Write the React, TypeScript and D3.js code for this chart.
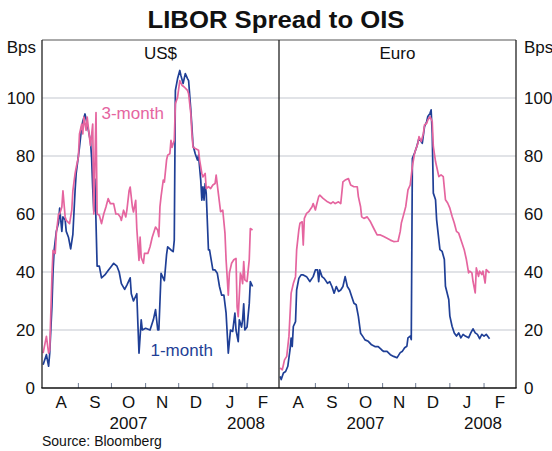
import React from "react";
import * as d3 from "d3";

// ---------- data ----------
const monthLabels = ["A", "S", "O", "N", "D", "J", "F"];
const yTickValues = [0, 20, 40, 60, 80, 100];
const yearLabels: [string, string, string][] = [
  ["2007", "2007-08-01", "2008-01-01"],
  ["2008", "2008-01-01", "2008-03-01"],
];

const usOneMonth: [string, number][] = [
  ["2007-07-31", 8], ["2007-08-03", 11.5], ["2007-08-05", 7.5], ["2007-08-06", 12], ["2007-08-08", 28],
  ["2007-08-09", 40], ["2007-08-10", 47.5], ["2007-08-12", 54], ["2007-08-14", 57], ["2007-08-15", 62],
  ["2007-08-17", 54], ["2007-08-18", 59], ["2007-08-20", 58], ["2007-08-21", 54], ["2007-08-23", 52],
  ["2007-08-25", 48], ["2007-08-27", 53], ["2007-08-29", 68], ["2007-08-30", 74], ["2007-09-02", 83],
  ["2007-09-04", 90], ["2007-09-05", 92], ["2007-09-07", 94.5], ["2007-09-09", 91], ["2007-09-10", 89],
  ["2007-09-12", 85], ["2007-09-13", 79.5], ["2007-09-14", 69], ["2007-09-15", 61], ["2007-09-16", 72],
  ["2007-09-18", 42], ["2007-09-20", 42], ["2007-09-22", 38], ["2007-09-25", 39], ["2007-09-28", 40.5],
  ["2007-10-01", 42], ["2007-10-03", 43], ["2007-10-06", 42], ["2007-10-08", 40], ["2007-10-10", 36],
  ["2007-10-13", 34], ["2007-10-15", 35.5], ["2007-10-18", 38], ["2007-10-19", 32.5], ["2007-10-21", 30],
  ["2007-10-24", 32.5], ["2007-10-25", 22], ["2007-10-26", 12], ["2007-10-28", 23.5], ["2007-10-29", 20],
  ["2007-11-01", 20.6], ["2007-11-05", 20], ["2007-11-08", 23.5], ["2007-11-10", 27], ["2007-11-12", 20],
  ["2007-11-13", 20], ["2007-11-15", 39.5], ["2007-11-18", 37], ["2007-11-20", 46], ["2007-11-21", 48.7],
  ["2007-11-24", 47.6], ["2007-11-26", 47], ["2007-11-27", 51], ["2007-11-28", 102.6], ["2007-11-30", 106.7],
  ["2007-12-02", 109.5], ["2007-12-03", 107.8], ["2007-12-05", 105], ["2007-12-07", 108.4], ["2007-12-09", 106.7],
  ["2007-12-10", 106], ["2007-12-12", 95.8], ["2007-12-13", 90], ["2007-12-14", 83.7], ["2007-12-16", 80.8],
  ["2007-12-18", 78.6], ["2007-12-19", 80.3], ["2007-12-21", 71.7], ["2007-12-22", 64.8], ["2007-12-23", 69.4],
  ["2007-12-24", 64.8], ["2007-12-25", 70.5], ["2007-12-26", 67], ["2007-12-28", 47.6], ["2007-12-29", 47.6],
  ["2007-12-30", 45.3], ["2008-01-01", 40.7], ["2008-01-03", 40.7], ["2008-01-05", 39.6], ["2008-01-07", 35],
  ["2008-01-09", 32], ["2008-01-11", 32], ["2008-01-13", 25.8], ["2008-01-14", 19], ["2008-01-15", 12],
  ["2008-01-17", 20], ["2008-01-19", 19.5], ["2008-01-21", 25.8], ["2008-01-22", 20], ["2008-01-24", 16],
  ["2008-01-25", 23.5], ["2008-01-27", 21], ["2008-01-28", 23.5], ["2008-01-29", 29], ["2008-01-30", 20],
  ["2008-02-01", 21], ["2008-02-03", 29], ["2008-02-04", 36.7], ["2008-02-06", 35],
];

const usThreeMonth: [string, number][] = [
  ["2007-07-31", 12], ["2007-08-03", 17.8], ["2007-08-05", 12], ["2007-08-06", 13], ["2007-08-08", 38.4],
  ["2007-08-09", 47.5], ["2007-08-11", 46.4], ["2007-08-12", 53.3], ["2007-08-14", 60], ["2007-08-15", 60],
  ["2007-08-17", 62.4], ["2007-08-18", 68], ["2007-08-20", 59], ["2007-08-21", 57.8], ["2007-08-24", 56.7],
  ["2007-08-26", 61.3], ["2007-08-27", 68], ["2007-08-29", 73.9], ["2007-08-30", 76], ["2007-09-01", 79.6],
  ["2007-09-02", 87.6], ["2007-09-04", 91], ["2007-09-05", 87.6], ["2007-09-06", 93.4], ["2007-09-08", 88.8],
  ["2007-09-09", 93.4], ["2007-09-11", 86.5], ["2007-09-12", 83.6], ["2007-09-14", 91], ["2007-09-15", 60],
  ["2007-09-17", 95], ["2007-09-18", 60], ["2007-09-20", 59.6], ["2007-09-22", 56.7], ["2007-09-24", 60],
  ["2007-09-26", 62.4], ["2007-09-28", 65.3], ["2007-09-30", 63.6], ["2007-10-03", 63.6], ["2007-10-05", 60],
  ["2007-10-07", 60], ["2007-10-09", 59], ["2007-10-10", 57.8], ["2007-10-12", 61.3], ["2007-10-14", 59],
  ["2007-10-15", 61.3], ["2007-10-17", 68], ["2007-10-18", 69.3], ["2007-10-20", 62.4], ["2007-10-21", 60.7],
  ["2007-10-23", 64.7], ["2007-10-24", 55], ["2007-10-26", 44], ["2007-10-27", 52], ["2007-10-28", 45],
  ["2007-10-30", 43], ["2007-10-31", 46.4], ["2007-11-03", 46.4], ["2007-11-05", 48.7], ["2007-11-07", 52],
  ["2007-11-10", 55.5], ["2007-11-12", 54.4], ["2007-11-13", 52.2], ["2007-11-14", 62.5], ["2007-11-15", 66],
  ["2007-11-17", 71.7], ["2007-11-18", 71], ["2007-11-20", 78.6], ["2007-11-21", 80.3], ["2007-11-23", 80.8],
  ["2007-11-24", 85.4], ["2007-11-25", 83], ["2007-11-27", 85.4], ["2007-11-28", 98], ["2007-11-30", 100.3],
  ["2007-12-02", 106], ["2007-12-04", 104.4], ["2007-12-06", 103.8], ["2007-12-09", 102.6], ["2007-12-10", 101.5],
  ["2007-12-12", 94.6], ["2007-12-13", 87.7], ["2007-12-14", 83], ["2007-12-16", 82.6], ["2007-12-19", 82],
  ["2007-12-20", 78.6], ["2007-12-22", 74], ["2007-12-23", 72.8], ["2007-12-25", 74], ["2007-12-26", 68.8],
  ["2007-12-28", 69.4], ["2007-12-30", 68.8], ["2008-01-01", 70], ["2008-01-03", 70.5], ["2008-01-04", 73.4],
  ["2008-01-06", 67], ["2008-01-08", 60.8], ["2008-01-10", 61.3], ["2008-01-12", 53.3], ["2008-01-13", 44.2],
  ["2008-01-15", 32], ["2008-01-16", 39.6], ["2008-01-18", 43], ["2008-01-20", 44.2], ["2008-01-22", 44.7],
  ["2008-01-23", 28], ["2008-01-24", 24.6], ["2008-01-26", 39.6], ["2008-01-27", 38.4], ["2008-01-28", 36],
  ["2008-01-29", 43.6], ["2008-01-30", 37.3], ["2008-02-01", 36.7], ["2008-02-03", 44.2], ["2008-02-04", 55],
  ["2008-02-06", 54.5],
];

const euroOneMonth: [string, number][] = [
  ["2007-07-31", 4], ["2007-08-01", 2.9], ["2007-08-03", 5.2], ["2007-08-05", 5.7], ["2007-08-07", 7.5],
  ["2007-08-09", 13.2], ["2007-08-10", 17.2], ["2007-08-11", 14.3], ["2007-08-12", 21.2], ["2007-08-14", 22.9],
  ["2007-08-15", 33.8], ["2007-08-17", 37.8], ["2007-08-19", 39], ["2007-08-21", 39], ["2007-08-24", 38.4],
  ["2007-08-27", 36.7], ["2007-08-30", 38.4], ["2007-09-01", 40.7], ["2007-09-03", 40.7], ["2007-09-04", 36.7],
  ["2007-09-05", 40.7], ["2007-09-07", 38.4], ["2007-09-09", 37.8], ["2007-09-12", 36.1], ["2007-09-14", 36.7],
  ["2007-09-16", 35], ["2007-09-18", 32.7], ["2007-09-20", 35], ["2007-09-22", 33.3], ["2007-09-24", 33.8],
  ["2007-09-26", 35], ["2007-09-28", 38.4], ["2007-09-30", 35], ["2007-10-02", 33.8], ["2007-10-04", 31.5],
  ["2007-10-06", 29.2], ["2007-10-08", 28.7], ["2007-10-10", 24.7], ["2007-10-12", 18.9], ["2007-10-14", 17.8],
  ["2007-10-16", 16.6], ["2007-10-19", 16.1], ["2007-10-22", 14.9], ["2007-10-25", 14.3], ["2007-10-28", 14.3],
  ["2007-10-31", 13.2], ["2007-11-02", 12.6], ["2007-11-05", 12.6], ["2007-11-08", 11.5], ["2007-11-11", 10.9],
  ["2007-11-14", 10.4], ["2007-11-15", 11], ["2007-11-17", 12.2], ["2007-11-19", 12.7], ["2007-11-21", 13.9],
  ["2007-11-23", 14.4], ["2007-11-24", 17.3], ["2007-11-26", 17.9], ["2007-11-27", 16.7], ["2007-11-28", 79.2],
  ["2007-11-30", 81], ["2007-12-02", 83.3], ["2007-12-04", 86.1], ["2007-12-06", 85], ["2007-12-07", 84.4],
  ["2007-12-09", 90.1], ["2007-12-11", 91.9], ["2007-12-12", 93.6], ["2007-12-14", 94.7], ["2007-12-15", 95.9],
  ["2007-12-16", 87.8], ["2007-12-17", 67.2], ["2007-12-19", 64.9], ["2007-12-20", 58], ["2007-12-22", 51.1],
  ["2007-12-23", 47.7], ["2007-12-25", 47.1], ["2007-12-27", 44.3], ["2007-12-28", 35.1], ["2007-12-31", 30.5],
  ["2008-01-01", 24.8], ["2008-01-03", 21.3], ["2008-01-05", 19], ["2008-01-07", 17.9], ["2008-01-09", 19],
  ["2008-01-11", 17.3], ["2008-01-13", 18.5], ["2008-01-15", 17.9], ["2008-01-18", 17.3], ["2008-01-20", 19],
  ["2008-01-22", 20.4], ["2008-01-24", 19], ["2008-01-26", 18.5], ["2008-01-28", 17], ["2008-01-30", 18.5],
  ["2008-02-01", 17.9], ["2008-02-03", 18.5], ["2008-02-06", 17],
];

const euroThreeMonth: [string, number][] = [
  ["2007-07-31", 6.9], ["2007-08-02", 6.3], ["2007-08-04", 9.7], ["2007-08-06", 10.9], ["2007-08-08", 17.8],
  ["2007-08-10", 32.7], ["2007-08-12", 36], ["2007-08-14", 38.4], ["2007-08-15", 47.6], ["2007-08-17", 54.5],
  ["2007-08-18", 56.8], ["2007-08-20", 57.3], ["2007-08-21", 49.3], ["2007-08-22", 58.5], ["2007-08-24", 60.2],
  ["2007-08-26", 60.8], ["2007-08-27", 61.4], ["2007-08-29", 62.5], ["2007-08-30", 63.6], ["2007-09-01", 61.4],
  ["2007-09-02", 63], ["2007-09-04", 66], ["2007-09-05", 66.5], ["2007-09-08", 65.4], ["2007-09-10", 64.8],
  ["2007-09-12", 64.2], ["2007-09-15", 63.6], ["2007-09-17", 64.2], ["2007-09-19", 63.6], ["2007-09-22", 64.2],
  ["2007-09-24", 63.6], ["2007-09-26", 71.1], ["2007-09-28", 71.7], ["2007-10-01", 72.2], ["2007-10-03", 70],
  ["2007-10-06", 69.4], ["2007-10-09", 69.4], ["2007-10-10", 66], ["2007-10-12", 62.5], ["2007-10-13", 59],
  ["2007-10-15", 58.5], ["2007-10-18", 59], ["2007-10-21", 57.3], ["2007-10-24", 55], ["2007-10-27", 52.8],
  ["2007-10-30", 52.8], ["2007-11-02", 52.2], ["2007-11-05", 51.6], ["2007-11-08", 51], ["2007-11-11", 50.5],
  ["2007-11-15", 50.6], ["2007-11-17", 54], ["2007-11-18", 56.9], ["2007-11-20", 59.7], ["2007-11-22", 62.6],
  ["2007-11-24", 68.3], ["2007-11-26", 70], ["2007-11-28", 76.4], ["2007-11-30", 81], ["2007-12-03", 84.4],
  ["2007-12-04", 86.7], ["2007-12-06", 85], ["2007-12-08", 87.8], ["2007-12-09", 90.7], ["2007-12-11", 91.3],
  ["2007-12-12", 92.4], ["2007-12-14", 93.6], ["2007-12-16", 91.9], ["2007-12-17", 83.3], ["2007-12-19", 78.1],
  ["2007-12-20", 76.4], ["2007-12-22", 72.9], ["2007-12-24", 73.5], ["2007-12-26", 72.9], ["2007-12-28", 64.9],
  ["2007-12-30", 63.8], ["2008-01-01", 62], ["2008-01-03", 59.2], ["2008-01-05", 56.9], ["2008-01-07", 54],
  ["2008-01-09", 53.4], ["2008-01-12", 50], ["2008-01-14", 47.7], ["2008-01-16", 44.3], ["2008-01-18", 39.7],
  ["2008-01-19", 40.3], ["2008-01-21", 39.7], ["2008-01-22", 36.8], ["2008-01-24", 32.8], ["2008-01-25", 41.4],
  ["2008-01-27", 38.5], ["2008-01-28", 40.3], ["2008-01-30", 39.1], ["2008-01-31", 40.3], ["2008-02-02", 36.2],
  ["2008-02-03", 40.8], ["2008-02-06", 39.7],
];

// ---------- layout ----------
const W = 552;
const H = 451;
const TOP = 40;
const BOTTOM = 388;
const PANEL_W = 237;
const PANEL_LEFTS = [42, 279];
const BLUE = "#1f3f96";
const PINK = "#e5659f";
const FONT = "'Liberation Sans', Arial, Helvetica, sans-serif";

const parse = d3.utcParse("%Y-%m-%d");
const DOMAIN: [Date, Date] = [parse("2007-07-30")!, parse("2008-03-01")!];

type Series = [string, number][];
const panels: { title: string; one: Series; three: Series }[] = [
  { title: "US$", one: usOneMonth, three: usThreeMonth },
  { title: "Euro", one: euroOneMonth, three: euroThreeMonth },
];

export default function App() {
  const y = d3.scaleLinear().domain([0, 120]).range([BOTTOM, TOP]);

  return (
    <svg
      width={W}
      height={H}
      style={{ position: "absolute", left: 0, top: 0, background: "#fff" }}
      fontFamily={FONT}
    >
      <rect x={0} y={0} width={W} height={H} fill="#fff" />
      {/* title */}
      <text
        x={W / 2}
        y={28}
        textAnchor="middle"
        fontSize={23}
        fontWeight="bold"
        fill="#111"
        textLength={257}
        lengthAdjust="spacingAndGlyphs"
      >
        LIBOR Spread to OIS
      </text>

      {/* gridlines */}
      {yTickValues
        .filter((v) => v > 0)
        .map((v) => (
          <line
            key={"g" + v}
            x1={PANEL_LEFTS[0]}
            x2={PANEL_LEFTS[1] + PANEL_W}
            y1={y(v)}
            y2={y(v)}
            stroke="#c3c8cf"
            strokeWidth={1.2}
          />
        ))}

      {panels.map((p, i) => {
        const left = PANEL_LEFTS[i];
        const x = d3.scaleUtc().domain(DOMAIN).range([left, left + PANEL_W]);
        const line = d3
          .line<[string, number]>()
          .x((d) => x(parse(d[0])!))
          .y((d) => y(d[1]));
        const monthStarts = d3.utcMonth.range(parse("2007-08-01")!, parse("2008-03-02")!);
        const tickDates = monthStarts.slice(1, 7);
        return (
          <g key={p.title}>
            {/* month ticks */}
            {tickDates.map((d) => (
              <line
                key={d.toISOString()}
                x1={x(d)}
                x2={x(d)}
                y1={BOTTOM}
                y2={BOTTOM - 5}
                stroke="#6f7c94"
                strokeWidth={1}
              />
            ))}
            {/* month labels */}
            {monthLabels.map((m, k) => {
              const a = Math.max(x(monthStarts[k]), left + 2);
              const b = Math.min(x(d3.utcMonth.offset(monthStarts[k], 1)), left + PANEL_W);
              return (
                <text
                  key={m + k}
                  x={(a + b) / 2}
                  y={408}
                  textAnchor="middle"
                  fontSize={17}
                  fill="#111"
                >
                  {m}
                </text>
              );
            })}
            {/* year labels */}
            {yearLabels.map(([lab, from, to]) => {
              const a = Math.max(x(parse(from)!), left);
              const b = Math.min(x(parse(to)!), left + PANEL_W);
              return (
                <text key={lab} x={(a + b) / 2} y={429} textAnchor="middle" fontSize={17} fill="#111">
                  {lab}
                </text>
              );
            })}
            {/* panel title */}
            <text x={left + PANEL_W / 2} y={59} textAnchor="middle" fontSize={17} fill="#111">
              {p.title}
            </text>
            {/* series */}
            <path d={line(p.one) || ""} fill="none" stroke={BLUE} strokeWidth={1.7} strokeLinejoin="round" />
            <path d={line(p.three) || ""} fill="none" stroke={PINK} strokeWidth={1.7} strokeLinejoin="round" />
          </g>
        );
      })}

      {/* frame */}
      <line x1={PANEL_LEFTS[0]} x2={PANEL_LEFTS[1] + PANEL_W} y1={TOP} y2={TOP} stroke="#555" strokeWidth={1} />
      {[PANEL_LEFTS[0], PANEL_LEFTS[1], PANEL_LEFTS[1] + PANEL_W].map((xx) => (
        <line key={"v" + xx} x1={xx} x2={xx} y1={TOP} y2={BOTTOM} stroke="#222" strokeWidth={1.3} />
      ))}
      <line
        x1={PANEL_LEFTS[0] - 0.6}
        x2={PANEL_LEFTS[1] + PANEL_W + 0.6}
        y1={BOTTOM}
        y2={BOTTOM}
        stroke="#111"
        strokeWidth={1.6}
      />

      {/* y axis labels */}
      {yTickValues.map((v) => (
        <g key={"yl" + v}>
          <text x={35} y={y(v)} dy="0.36em" textAnchor="end" fontSize={17} fill="#111">
            {v}
          </text>
          <text x={524} y={y(v)} dy="0.36em" textAnchor="start" fontSize={17} fill="#111">
            {v}
          </text>
        </g>
      ))}
      <text x={36} y={53} textAnchor="end" fontSize={17} fill="#111">
        Bps
      </text>
      <text x={524} y={53} textAnchor="start" fontSize={17} fill="#111">
        Bps
      </text>

      {/* series labels */}
      <text x={101.5} y={119} fontSize={17} fill={PINK}>
        3-month
      </text>
      <text x={150.5} y={356} fontSize={17} fill={BLUE}>
        1-month
      </text>

      {/* source */}
      <text x={42} y={446} fontSize={14} fill="#111">
        Source: Bloomberg
      </text>
    </svg>
  );
}
